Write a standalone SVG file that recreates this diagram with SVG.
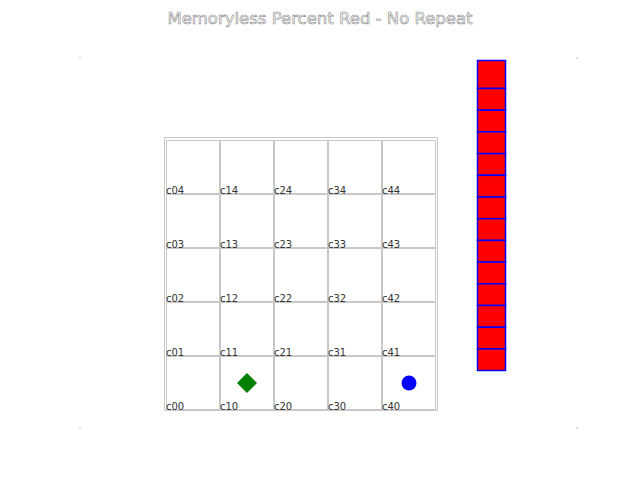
<svg xmlns="http://www.w3.org/2000/svg" width="640" height="480" viewBox="0 0 640 480">
<style>
.cell{fill:#fff;stroke:#c8c8c8;stroke-width:1}
.lbl{font-family:"DejaVu Sans",sans-serif;font-size:10px;fill:#333}
.bar{fill:#ff0000;stroke:#0000ff;stroke-width:1.5}
.dot{fill:#d0d0d0}
</style>
<rect width="640" height="480" fill="#fff"/>
<text x="320" y="24" text-anchor="middle" font-family="DejaVu Sans, sans-serif" font-size="16.5" fill="#fff" stroke="#888" stroke-width="0.6">Memoryless Percent Red - No Repeat</text>
<g id="corners">
<circle class="dot" cx="80" cy="58" r="1"/><circle class="dot" cx="577" cy="58" r="1"/>
<circle class="dot" cx="80" cy="428" r="1"/><circle class="dot" cx="577" cy="428" r="1"/>
</g>
<g id="grid">
<rect x="164.5" y="137.5" width="273" height="273" fill="none" stroke="#c8c8c8"/>
<g id="row4">
<rect class="cell" x="166.5" y="140.5" width="53" height="53"/><text class="lbl" x="166" y="194">c04</text>
<rect class="cell" x="220.5" y="140.5" width="53" height="53"/><text class="lbl" x="220" y="194">c14</text>
<rect class="cell" x="274.5" y="140.5" width="53" height="53"/><text class="lbl" x="274" y="194">c24</text>
<rect class="cell" x="328.5" y="140.5" width="53" height="53"/><text class="lbl" x="328" y="194">c34</text>
<rect class="cell" x="382.5" y="140.5" width="53" height="53"/><text class="lbl" x="382" y="194">c44</text>
</g>
<g id="row3">
<rect class="cell" x="166.5" y="194.5" width="53" height="53"/><text class="lbl" x="166" y="248">c03</text>
<rect class="cell" x="220.5" y="194.5" width="53" height="53"/><text class="lbl" x="220" y="248">c13</text>
<rect class="cell" x="274.5" y="194.5" width="53" height="53"/><text class="lbl" x="274" y="248">c23</text>
<rect class="cell" x="328.5" y="194.5" width="53" height="53"/><text class="lbl" x="328" y="248">c33</text>
<rect class="cell" x="382.5" y="194.5" width="53" height="53"/><text class="lbl" x="382" y="248">c43</text>
</g>
<g id="row2">
<rect class="cell" x="166.5" y="248.5" width="53" height="53"/><text class="lbl" x="166" y="302">c02</text>
<rect class="cell" x="220.5" y="248.5" width="53" height="53"/><text class="lbl" x="220" y="302">c12</text>
<rect class="cell" x="274.5" y="248.5" width="53" height="53"/><text class="lbl" x="274" y="302">c22</text>
<rect class="cell" x="328.5" y="248.5" width="53" height="53"/><text class="lbl" x="328" y="302">c32</text>
<rect class="cell" x="382.5" y="248.5" width="53" height="53"/><text class="lbl" x="382" y="302">c42</text>
</g>
<g id="row1">
<rect class="cell" x="166.5" y="302.5" width="53" height="53"/><text class="lbl" x="166" y="356">c01</text>
<rect class="cell" x="220.5" y="302.5" width="53" height="53"/><text class="lbl" x="220" y="356">c11</text>
<rect class="cell" x="274.5" y="302.5" width="53" height="53"/><text class="lbl" x="274" y="356">c21</text>
<rect class="cell" x="328.5" y="302.5" width="53" height="53"/><text class="lbl" x="328" y="356">c31</text>
<rect class="cell" x="382.5" y="302.5" width="53" height="53"/><text class="lbl" x="382" y="356">c41</text>
</g>
<g id="row0">
<rect class="cell" x="166.5" y="356.5" width="53" height="53"/><text class="lbl" x="166" y="410">c00</text>
<rect class="cell" x="220.5" y="356.5" width="53" height="53"/><text class="lbl" x="220" y="410">c10</text>
<rect class="cell" x="274.5" y="356.5" width="53" height="53"/><text class="lbl" x="274" y="410">c20</text>
<rect class="cell" x="328.5" y="356.5" width="53" height="53"/><text class="lbl" x="328" y="410">c30</text>
<rect class="cell" x="382.5" y="356.5" width="53" height="53"/><text class="lbl" x="382" y="410">c40</text>
</g>
</g>
<g id="diamond"><polygon points="247,373 257,383 247,393 237,383" fill="#008000"/></g>
<g id="circle"><circle cx="409" cy="383" r="7.5" fill="#0000ff"/></g>
<g id="bar">
<rect class="bar" x="477.5" y="60.5" width="28" height="28"/>
<rect class="bar" x="477.5" y="88.5" width="28" height="21.7"/>
<rect class="bar" x="477.5" y="110.2" width="28" height="21.7"/>
<rect class="bar" x="477.5" y="131.9" width="28" height="21.7"/>
<rect class="bar" x="477.5" y="153.6" width="28" height="21.7"/>
<rect class="bar" x="477.5" y="175.3" width="28" height="21.7"/>
<rect class="bar" x="477.5" y="197" width="28" height="21.7"/>
<rect class="bar" x="477.5" y="218.7" width="28" height="21.7"/>
<rect class="bar" x="477.5" y="240.4" width="28" height="21.7"/>
<rect class="bar" x="477.5" y="262.1" width="28" height="21.7"/>
<rect class="bar" x="477.5" y="283.8" width="28" height="21.7"/>
<rect class="bar" x="477.5" y="305.5" width="28" height="21.7"/>
<rect class="bar" x="477.5" y="327.2" width="28" height="21.7"/>
<rect class="bar" x="477.5" y="348.9" width="28" height="21.6"/>
</g>
</svg>
